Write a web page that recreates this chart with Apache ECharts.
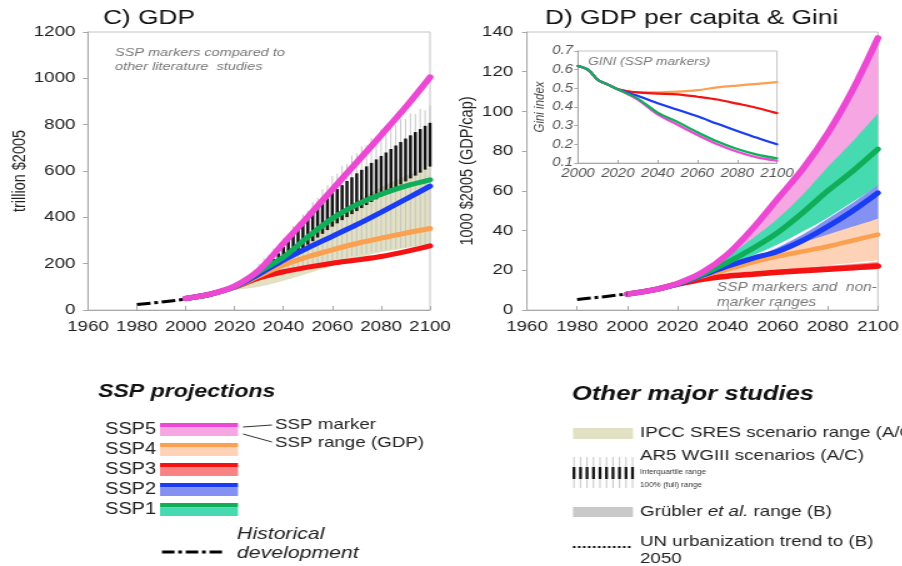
<!DOCTYPE html>
<html>
<head>
<meta charset="utf-8">
<script src="https://cdn.jsdelivr.net/npm/echarts@6/dist/echarts.min.js"></script>
<style>
html,body{margin:0;padding:0;background:#fff;overflow:hidden;}
#c{width:722px;height:566px;transform:scaleX(1.25);transform-origin:0 0;}
</style>
</head>
<body>
<div id="c"></div>
<script>
// ---------------- DATA ----------------
const gdpYears = [2000, 2010, 2020, 2030, 2040, 2050, 2060, 2070, 2080, 2090, 2100];
const gdpSSP1 = [50, 68, 101, 165, 228, 315, 395, 455, 500, 535, 562];
const gdpSSP2 = [50, 68, 100, 155, 215, 268, 318, 368, 422, 478, 535];
const gdpSSP3 = [50, 68, 98, 138, 165, 185, 202, 216, 231, 252, 277];
const gdpSSP4 = [50, 68, 100, 148, 194, 230, 260, 287, 310, 332, 352];
const gdpSSP5 = [50, 68, 103, 172, 288, 402, 520, 637, 755, 875, 1005];

const histYears = [1980, 1990, 2000];
const gdpHist = [24, 34, 47];
const capHist = [5.3, 6.6, 8.1];

const sresYears = [2010, 2020, 2030, 2040, 2050, 2060, 2070, 2080, 2090, 2100];
const sresLow  = [66, 86, 100, 126, 158, 190, 222, 250, 268, 282];
const sresHigh = [70, 110, 165, 240, 320, 400, 470, 530, 578, 615];

const ar5Years = [2030, 2032, 2034, 2036, 2038, 2040, 2042, 2044, 2046, 2048, 2050, 2052, 2054, 2056, 2058, 2060, 2062, 2064, 2066, 2068, 2070, 2072, 2074, 2076, 2078, 2080, 2082, 2084, 2086, 2088, 2090, 2092, 2094, 2096, 2098, 2100];
const ar5FullLow  = [120, 131, 139, 151, 157, 166, 169, 176, 179, 186, 189, 196, 199, 206, 209, 216, 218, 224, 226, 232, 234, 240, 242, 248, 250, 256, 257, 262, 263, 268, 269, 274, 275, 280, 281, 285];
const ar5FullHigh = [200, 224, 238, 266, 282, 310, 328, 362, 378, 412, 428, 466, 484, 522, 538, 578, 588, 622, 630, 666, 676, 706, 712, 742, 748, 778, 778, 802, 800, 826, 824, 848, 846, 868, 862, 882];
const ar5IqLow  = [150, 160, 172, 184, 196, 208, 222, 236, 251, 266, 282, 297, 313, 329, 345, 360, 374, 388, 401, 414, 427, 440, 453, 466, 478, 490, 503, 516, 529, 542, 555, 568, 580, 593, 606, 619];
const ar5IqHigh = [172, 186, 202, 220, 245, 272, 297, 322, 347, 371, 395, 418, 441, 463, 484, 505, 522, 539, 557, 573, 590, 605, 620, 635, 650, 665, 680, 695, 710, 725, 740, 754, 768, 781, 795, 808];

const capYears = [2000, 2010, 2020, 2030, 2040, 2050, 2060, 2070, 2080, 2090, 2100];
const capSSP1 = [8, 10, 13.2, 18, 24, 31, 39, 49, 60, 70, 81];
const capSSP2 = [8, 10, 13, 17.5, 22, 26, 29.5, 35, 42, 50, 59];
const capSSP3 = [8, 10, 13, 15.5, 17, 18, 19, 19.8, 20.5, 21.3, 22.2];
const capSSP4 = [8, 10, 13, 17, 20.5, 24, 27, 29.5, 32, 35, 38];
const capSSP5 = [8, 10, 13.4, 19, 28, 41, 56, 71, 89, 111, 137];

const rangeYears = [2020, 2030, 2040, 2050, 2060, 2070, 2080, 2090, 2100];
const ssp5Lo = [13, 18.5, 25, 33, 42, 52, 64, 78, 94];
const ssp5Hi = [13.4, 19, 28, 41, 56, 71, 89, 111, 137];
const ssp1Lo = [13, 17.5, 22.5, 27.5, 33, 39.5, 46.5, 54.5, 62.5];
const ssp1Hi = [13.2, 19, 27, 36, 46, 58, 72, 85, 99];
const ssp2Lo = [13, 17, 20.5, 23.5, 27, 31, 36, 41, 46];
const ssp2Hi = [13, 18, 22.5, 26.5, 31.5, 38, 46, 54, 63];
const ssp4Lo = [13, 16, 17.5, 18.8, 20, 21.2, 22.5, 23.8, 25];
const ssp4Hi = [13, 17.5, 21.5, 26, 30, 34, 38, 42, 46];
const ssp3Lo = [13, 15, 16.3, 17.2, 18, 18.7, 19.4, 20, 20.5];
const ssp3Hi = [13, 16, 17.8, 19, 20.2, 21.3, 22.3, 23.2, 24.2];

const giniYears = [2000, 2005, 2010, 2015, 2020, 2030, 2040, 2050, 2060, 2070, 2080, 2090, 2100];
const giniSSP1 = [0.62, 0.6, 0.545, 0.52, 0.495, 0.445, 0.37, 0.32, 0.265, 0.215, 0.175, 0.145, 0.125];
const giniSSP2 = [0.62, 0.6, 0.545, 0.52, 0.495, 0.46, 0.42, 0.385, 0.35, 0.31, 0.272, 0.235, 0.2];
const giniSSP3 = [0.62, 0.6, 0.545, 0.52, 0.495, 0.478, 0.472, 0.468, 0.455, 0.44, 0.418, 0.395, 0.367];
const giniSSP4 = [0.62, 0.6, 0.545, 0.52, 0.495, 0.478, 0.478, 0.482, 0.49, 0.505, 0.515, 0.524, 0.533];
const giniSSP5 = [0.62, 0.6, 0.545, 0.52, 0.495, 0.44, 0.36, 0.305, 0.25, 0.2, 0.16, 0.13, 0.112];

const gdpTicks = {min: 0, max: 1200, interval: 200};
const capTicks = {min: 0, max: 140, interval: 20};
const yearTicks = {min: 1960, max: 2100, interval: 20};
const giniTicks = {min: 0.1, max: 0.7, interval: 0.1};
const giniYearTicks = {min: 2000, max: 2100, interval: 20};

// ---------------- STYLE ----------------
const S = 1.25;               // horizontal stretch of the picture
const u = px => px / S;       // reference px -> canvas units (x only)
const FONT = "'Liberation Sans', Arial, Helvetica, sans-serif";
const COL = {
  ssp5: '#ec48d4', ssp5r: '#f6a6e2',
  ssp4: '#fba050', ssp4r: '#fdd2b6',
  ssp3: '#f41212', ssp3r: '#f98282',
  ssp2: '#1a3cf2', ssp2r: '#8392f2',
  ssp1: '#10ae58', ssp1r: '#46dab0',
  sres: '#e3e1c3', grub: '#c9c9c9'
};

const zip = (xs, ys) => xs.map((x, i) => [x, ys[i]]);

function lineS(xs, ys, color, width, xi, extra) {
  return Object.assign({
    type: 'line', xAxisIndex: xi, yAxisIndex: xi, data: zip(xs, ys),
    symbol: 'none', smooth: 0.3, silent: true,
    lineStyle: {color: color, width: width, cap: 'round'}
  }, extra || {});
}
// smooth curve through pixel points (Catmull-Rom -> cubic Bezier), rendering only
function crSegs(p) {
  let s = '';
  for (let i = 0; i < p.length - 1; i++) {
    const p0 = p[Math.max(i - 1, 0)], p1 = p[i], p2 = p[i + 1], p3 = p[Math.min(i + 2, p.length - 1)];
    const c1 = [p1[0] + (p2[0] - p0[0]) / 6, p1[1] + (p2[1] - p0[1]) / 6];
    const c2 = [p2[0] - (p3[0] - p1[0]) / 6, p2[1] - (p3[1] - p1[1]) / 6];
    s += ' C' + c1[0] + ',' + c1[1] + ' ' + c2[0] + ',' + c2[1] + ' ' + p2[0] + ',' + p2[1];
  }
  return s;
}
function band(xs, lo, hi, color, xi, z) {
  return {
    type: 'custom', xAxisIndex: xi, yAxisIndex: xi, silent: true, clip: true, z: z || 2,
    data: [[xs[0], lo[0]]],
    renderItem: function (params, api) {
      const top = xs.map((x, i) => api.coord([x, hi[i]]));
      const bot = xs.map((x, i) => api.coord([x, lo[i]])).reverse();
      const d = 'M' + top[0][0] + ',' + top[0][1] + crSegs(top) +
        ' L' + bot[0][0] + ',' + bot[0][1] + crSegs(bot) + ' Z';
      return {type: 'path', shape: {pathData: d}, style: {fill: color, stroke: null}};
    }
  };
}

const plain = v => String(v);
function valAxis(t, gi, opts) {
  return Object.assign({
    type: 'value', gridIndex: gi, min: t.min, max: t.max, interval: t.interval,
    splitLine: {show: false},
    axisLine: {show: true, lineStyle: {color: '#a8a8a8', width: 1}}
  }, opts);
}

const grids = [
  {left: u(88), top: 32, width: u(430) - u(88), height: 278, show: true, borderColor: '#c4c4c4', borderWidth: 1, backgroundColor: 'transparent'},
  {left: u(527), top: 32, width: u(881) - u(527), height: 278, show: true, borderColor: '#c4c4c4', borderWidth: 1, backgroundColor: 'transparent'},
  {left: u(578), top: 51, width: u(777) - u(578), height: 112, show: true, borderColor: '#c4c4c4', borderWidth: 1, backgroundColor: '#ffffff', z: 5}
];

const mainXLabel = {fontSize: 15, color: '#222', fontFamily: FONT, margin: 9, formatter: plain};
const xAxes = [
  valAxis(yearTicks, 0, {axisTick: {inside: true, length: 4, lineStyle: {color: '#a8a8a8'}}, axisLabel: mainXLabel}),
  valAxis(yearTicks, 1, {axisTick: {inside: true, length: 4, lineStyle: {color: '#a8a8a8'}}, axisLabel: mainXLabel}),
  valAxis(giniYearTicks, 2, {z: 6, axisTick: {inside: true, length: 3, lineStyle: {color: '#a8a8a8'}},
    axisLabel: {fontSize: 12, color: '#555', fontStyle: 'italic', fontFamily: FONT, margin: 5, formatter: plain}})
];
const yAxes = [
  valAxis(gdpTicks, 0, {axisTick: {inside: false, length: 4, lineStyle: {color: '#a8a8a8'}},
    axisLabel: {fontSize: 15, color: '#222', fontFamily: FONT, margin: 10, formatter: plain},
    name: 'trillion $2005', nameLocation: 'middle', nameGap: 41,
    nameTextStyle: {fontSize: 14.5, color: '#222', fontFamily: FONT}}),
  valAxis(capTicks, 1, {axisTick: {inside: false, length: 4, lineStyle: {color: '#a8a8a8'}},
    axisLabel: {fontSize: 15, color: '#222', fontFamily: FONT, margin: 11, formatter: plain},
    name: '1000 $2005 (GDP/cap)', nameLocation: 'middle', nameGap: 37,
    nameTextStyle: {fontSize: 14.5, color: '#222', fontFamily: FONT}}),
  valAxis(giniTicks, 2, {z: 6, axisTick: {inside: false, length: 3, lineStyle: {color: '#a8a8a8'}},
    axisLabel: {fontSize: 12, color: '#555', fontStyle: 'italic', fontFamily: FONT, margin: 4, formatter: v => v.toFixed(1)},
    name: 'Gini index', nameLocation: 'middle', nameGap: 17,
    nameTextStyle: {fontSize: 11.5, color: '#444', fontStyle: 'italic', fontFamily: FONT}})
];

const series = [];
// ----- Panel C -----
series.push(band(sresYears, sresLow, sresHigh, COL.sres, 0));
series.push({
  type: 'custom', xAxisIndex: 0, yAxisIndex: 0, silent: true,
  data: ar5Years.map((y, i) => [y, ar5FullLow[i], ar5FullHigh[i], ar5IqLow[i], ar5IqHigh[i]]),
  encode: {x: 0, y: [1, 2, 3, 4]},
  renderItem: function (params, api) {
    const x = api.value(0);
    const a = api.coord([x, api.value(1)]), b = api.coord([x, api.value(2)]);
    const c = api.coord([x, api.value(3)]), d = api.coord([x, api.value(4)]);
    return {type: 'group', children: [
      {type: 'line', shape: {x1: a[0], y1: a[1], x2: b[0], y2: b[1]}, style: {stroke: '#c2c2c2', lineWidth: 0.9}},
      {type: 'line', shape: {x1: c[0], y1: c[1], x2: d[0], y2: d[1]}, style: {stroke: '#141414', lineWidth: 2.5}}
    ]};
  }
});
series.push(lineS(gdpYears, gdpSSP3, COL.ssp3, 5, 0));
series.push(lineS(gdpYears, gdpSSP4, COL.ssp4, 5, 0));
series.push(lineS(gdpYears, gdpSSP2, COL.ssp2, 5, 0));
series.push(lineS(gdpYears, gdpSSP1, COL.ssp1, 5, 0));
series.push(lineS(gdpYears, gdpSSP5, COL.ssp5, 5.5, 0));
series.push(lineS(histYears, gdpHist, '#000', 3, 0, {smooth: false, lineStyle: {color: '#000', width: 3, type: [11, 3, 3, 3]}}));

// ----- Panel D -----
series.push(band(rangeYears, ssp5Lo, ssp5Hi, COL.ssp5r, 1));
series.push(band(rangeYears, ssp1Lo, ssp1Hi, COL.ssp1r, 1));
series.push(band(rangeYears, ssp2Lo, ssp2Hi, COL.ssp2r, 1));
series.push(band(rangeYears, ssp4Lo, ssp4Hi, COL.ssp4r, 1));
series.push(band(rangeYears, ssp3Lo, ssp3Hi, COL.ssp3r, 1));
series.push(lineS(capYears, capSSP3, COL.ssp3, 5.5, 1));
series.push(lineS(capYears, capSSP4, COL.ssp4, 4.5, 1));
series.push(lineS(capYears, capSSP2, COL.ssp2, 5, 1));
series.push(lineS(capYears, capSSP1, COL.ssp1, 5, 1));
series.push(lineS(capYears, capSSP5, COL.ssp5, 5.5, 1));
series.push(lineS(histYears, capHist, '#000', 3, 1, {smooth: false, lineStyle: {color: '#000', width: 3, type: [11, 3, 3, 3]}}));

// ----- Inset Gini -----
[[giniSSP4, COL.ssp4], [giniSSP3, COL.ssp3], [giniSSP2, COL.ssp2], [giniSSP5, COL.ssp5], [giniSSP1, COL.ssp1]].forEach(p => {
  series.push(lineS(giniYears, p[0], p[1], 2.2, 2, {z: 7}));
});

// ---------------- GRAPHIC (annotations & legends) ----------------
const G = [];
function txt(x, y, text, font, fill, extra) {
  G.push({type: 'text', x: x, y: y, silent: true, z: 20,
    style: Object.assign({text: text, font: font, fill: fill || '#222', align: 'left', verticalAlign: 'middle'}, extra || {})});
}
function rect(x, y, w, h, fill) {
  G.push({type: 'rect', silent: true, z: 20, shape: {x: x, y: y, width: w, height: h}, style: {fill: fill}});
}
function seg(x1, y1, x2, y2, stroke, lw, dash) {
  G.push({type: 'line', silent: true, z: 20, shape: {x1: x1, y1: y1, x2: x2, y2: y2},
    style: {stroke: stroke, lineWidth: lw, lineDash: dash || null}});
}
const it = s => 'italic ' + s + 'px ' + FONT;
const nf = s => s + 'px ' + FONT;

// panel annotations
txt(u(115), 53, 'SSP markers compared to', it(11.6), '#777');
txt(u(115), 67, 'other literature  studies', it(11.6), '#777');
txt(u(717), 288, 'SSP markers and  non-', it(12.3), '#777');
txt(u(717), 303, 'marker ranges', it(12.3), '#777');
txt(u(588), 62, 'GINI (SSP markers)', it(11), '#777');

// left legend
txt(u(98), 392, 'SSP projections', 'italic bold 18.5px ' + FONT, '#111');
const legSSP = [['SSP5', COL.ssp5, COL.ssp5r], ['SSP4', COL.ssp4, COL.ssp4r], ['SSP3', COL.ssp3, COL.ssp3r], ['SSP2', COL.ssp2, COL.ssp2r], ['SSP1', COL.ssp1, COL.ssp1r]];
legSSP.forEach((l, i) => {
  const top = 423 + 20 * i;
  txt(u(105), top + 7, l[0], nf(16), '#222');
  rect(u(160), top, u(238) - u(160), 4.5, l[1]);
  rect(u(160), top + 4.5, u(238) - u(160), 8.5, l[2]);
});
seg(u(243), 427, u(272), 425, '#333', 1);
seg(u(243), 434, u(272), 442, '#333', 1);
txt(u(275), 425, 'SSP marker', nf(15), '#222');
txt(u(275), 443, 'SSP range (GDP)', nf(15), '#222');
seg(u(162), 552, u(223), 552, '#000', 3, [10, 3, 3, 3]);
txt(u(237), 534, 'Historical', it(17), '#222');
txt(u(237), 553, 'development', it(17), '#222');

// right legend
txt(u(572), 394, 'Other major studies', 'italic bold 20.5px ' + FONT, '#111');
rect(u(573), 428, u(633) - u(573), 11, COL.sres);
txt(u(640), 433, 'IPCC SRES scenario range (A/C)', nf(15), '#222');
for (let k = 0; k < 10; k++) {
  const x = u(574 + 6.5 * k);
  seg(x, 457, x, 488, '#c2c2c2', 0.9);
  seg(x, 467, x, 479, '#141414', 2.3);
}
txt(u(640), 456, 'AR5 WGIII scenarios (A/C)', nf(15), '#222');
txt(u(640), 472, 'Interquartile range', nf(6.5), '#333');
txt(u(640), 485, '100% (full) range', nf(6.5), '#333');
rect(u(573), 507, u(633) - u(573), 10, COL.grub);
txt(u(640), 512, 'Grübler {i|et al.} range (B)', nf(15), '#222',
  {rich: {i: {fontStyle: 'italic', fontSize: 15, fontFamily: FONT, fill: '#222'}}});
seg(u(573), 547, u(633), 547, '#111', 2, [2, 2]);
txt(u(640), 542, 'UN urbanization trend to (B)', nf(15), '#222');
txt(u(640), 559, '2050', nf(15), '#222');

const option = {
  animation: false,
  backgroundColor: '#ffffff',
  textStyle: {fontFamily: FONT},
  title: [
    {text: 'C) GDP', left: u(103), top: 8, padding: 0, textStyle: {fontSize: 21, fontWeight: 'normal', color: '#111', fontFamily: FONT}},
    {text: 'D) GDP per capita & Gini', left: u(545), top: 8, padding: 0, textStyle: {fontSize: 21, fontWeight: 'normal', color: '#111', fontFamily: FONT}}
  ],
  grid: grids,
  xAxis: xAxes,
  yAxis: yAxes,
  series: series,
  graphic: G
};

const chart = echarts.init(document.getElementById('c'), null, {width: 722, height: 566, renderer: 'canvas'});
chart.setOption(option);
</script>
</body>
</html>
